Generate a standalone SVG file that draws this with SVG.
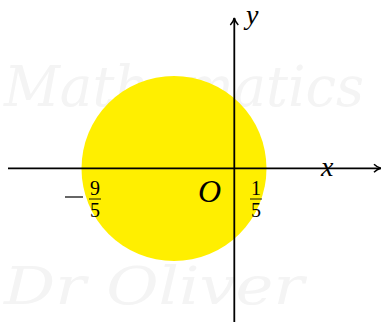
<svg xmlns="http://www.w3.org/2000/svg" width="381" height="322" viewBox="0 0 381 322">
<style>
.wm{font-family:"DejaVu Serif","Liberation Serif",serif;font-style:italic;fill:#f4f4f4;}
.axis{stroke:#000;stroke-width:1.8;fill:none;}
.lbl{font-family:"Liberation Serif","DejaVu Serif",serif;font-style:italic;fill:#000;}
.num{font-family:"Liberation Serif","DejaVu Serif",serif;fill:#000;font-size:20px;text-anchor:middle;}
.bar{stroke:#000;stroke-width:0.9;}
</style>
<defs>
<marker id="arr" viewBox="0 0 10 10" refX="9" refY="5" markerWidth="10" markerHeight="10" markerUnits="userSpaceOnUse" orient="auto">
<path d="M2,1 Q5,4 9,5 Q5,6 2,9" fill="none" stroke="#000" stroke-width="1.5"/>
</marker>
</defs>
<rect width="381" height="322" fill="#fff"/>
<g id="watermark">
<text class="wm" x="4" y="106" font-size="56" textLength="360" lengthAdjust="spacingAndGlyphs">Mathematics</text>
<text class="wm" x="4" y="304" font-size="52" textLength="300" lengthAdjust="spacingAndGlyphs">Dr Oliver</text>
</g>
<g id="disc">
<circle cx="174" cy="168.5" r="92.5" fill="#ffef00"/>
</g>
<g id="connectors">
<line class="axis" x1="8" y1="168.3" x2="381" y2="168.3" marker-end="url(#arr)"/>
<line class="axis" x1="234.3" y1="322" x2="234.3" y2="18" marker-end="url(#arr)"/>
</g>
<g id="labels">
<text class="lbl" x="246" y="24" font-size="28">y</text>
<text class="lbl" x="321" y="176" font-size="28">x</text>
<text class="lbl" x="198" y="202" font-size="32">O</text>
</g>
<g id="frac-neg">
<line class="bar" x1="65" y1="197" x2="83" y2="197" style="stroke-width:1.2"/>
<text class="num" x="95" y="195">9</text>
<line class="bar" x1="89" y1="199" x2="101" y2="199"/>
<text class="num" x="95" y="217">5</text>
</g>
<g id="frac-pos">
<text class="num" x="256" y="195">1</text>
<line class="bar" x1="250" y1="199" x2="262" y2="199"/>
<text class="num" x="256" y="217">5</text>
</g>
</svg>
